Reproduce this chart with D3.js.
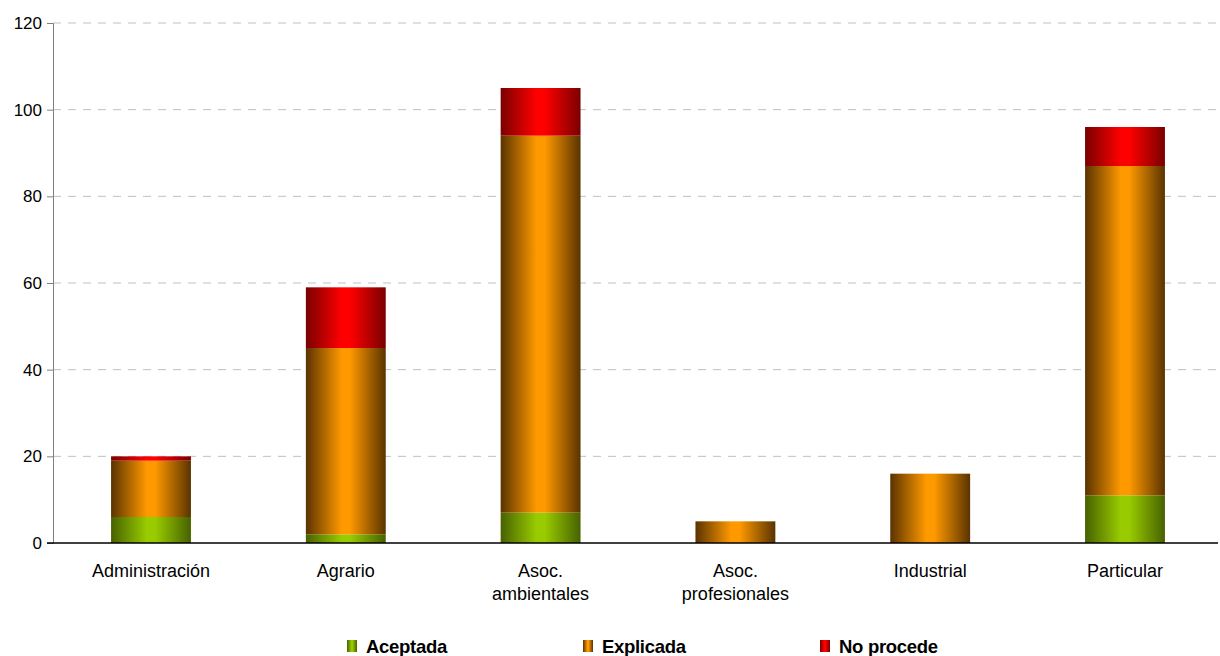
<!DOCTYPE html>
<html>
<head>
<meta charset="utf-8">
<style>
  body { margin: 0; background: #fff; }
  text { font-family: "Liberation Sans", Arial, sans-serif; }
</style>
</head>
<body>
<svg width="1220" height="656" id="chart"></svg>
<script src="https://cdn.jsdelivr.net/npm/d3@7"></script>
<script>

const categories = ['Administración', 'Agrario', 'Asoc.\nambientales', 'Asoc.\nprofesionales', 'Industrial', 'Particular']
const seriesNames = ['Aceptada', 'Explicada', 'No procede']
const aceptada = [6, 2, 7, 0, 0, 11]
const explicada = [13, 43, 87, 5, 16, 76]
const noProcede = [1, 14, 11, 0, 0, 9]
const yTicks = [0, 20, 40, 60, 80, 100, 120]

// edge / centre colours of the cylinder-like gradient
const palette = [
  { edge: '#476100', mid: '#99cc00' },
  { edge: '#5a3300', mid: '#ff9900' },
  { edge: '#7a0000', mid: '#ff0000' }
]

const rows = categories.map((c, i) => ({
  cat: c, Aceptada: aceptada[i], Explicada: explicada[i], 'No procede': noProcede[i]
}))

const plotLeft = 53, plotRight = 1218, plotTop = 23, plotBottom = 543

const svg = d3.select('#chart')

const x = d3.scaleBand().domain(categories).range([53.6, 1222.4])
const y = d3.scaleLinear().domain([0, 120]).range([plotBottom, plotTop])
const barW = x.bandwidth() * 0.41

// gradients
const defs = svg.append('defs')
palette.forEach((p, i) => {
  const g = defs.append('linearGradient').attr('id', 'grad' + i)
    .attr('x1', '0%').attr('x2', '100%').attr('y1', '0%').attr('y2', '0%')
  g.append('stop').attr('offset', '0%').attr('stop-color', p.edge)
  g.append('stop').attr('offset', '45%').attr('stop-color', p.mid)
  g.append('stop').attr('offset', '55%').attr('stop-color', p.mid)
  g.append('stop').attr('offset', '100%').attr('stop-color', p.edge)
})

// gridlines
svg.append('g')
  .selectAll('line')
  .data(yTicks.filter(d => d > 0))
  .enter()
  .append('line')
    .attr('x1', plotLeft).attr('x2', plotRight)
    .attr('y1', d => y(d)).attr('y2', d => y(d))
    .attr('stroke', '#c0c0c0')
    .attr('stroke-dasharray', '8,7')

// bars
const stack = d3.stack().keys(seriesNames)(rows)
svg.append('g')
  .selectAll('g')
  .data(stack)
  .enter()
  .append('g')
    .attr('fill', (d, i) => 'url(#grad' + i + ')')
  .selectAll('rect')
  .data(d => d)
  .enter()
  .append('rect')
    .attr('x', d => x(d.data.cat) + (x.bandwidth() - barW) / 2)
    .attr('width', barW)
    .attr('y', d => y(d[1]))
    .attr('height', d => y(d[0]) - y(d[1]))

// y axis
const yAxis = svg.append('g').attr('transform', 'translate(' + plotLeft + ',0)')
  .call(d3.axisLeft(y).tickValues(yTicks).tickSize(6).tickPadding(5))
yAxis.select('.domain').attr('stroke', '#808080')
yAxis.selectAll('.tick line').attr('stroke', '#808080')
yAxis.selectAll('.tick text')
  .attr('font-size', 17).attr('fill', '#000')
  .style('font-family', '"Liberation Sans", Arial, sans-serif')

// x axis line
svg.append('line')
  .attr('x1', plotLeft - 6).attr('x2', plotRight)
  .attr('y1', plotBottom).attr('y2', plotBottom)
  .attr('stroke', '#000').attr('stroke-width', 1.5)

// category labels
const labels = svg.append('g')
  .selectAll('text')
  .data(categories)
  .enter()
  .append('text')
    .attr('x', d => x(d) + x.bandwidth() / 2)
    .attr('y', 577)
    .attr('text-anchor', 'middle')
    .attr('font-size', 18)
labels.selectAll('tspan')
  .data(d => d.split('\n'))
  .enter()
  .append('tspan')
    .attr('x', function () { return d3.select(this.parentNode).attr('x') })
    .attr('dy', (d, i) => i === 0 ? 0 : 23)
    .text(d => d)

// legend
const legendX = [347, 583, 820]
const legend = svg.append('g')
  .selectAll('g')
  .data(seriesNames)
  .enter()
  .append('g')
    .attr('transform', (d, i) => 'translate(' + legendX[i] + ',640)')
legend.append('rect')
  .attr('width', 10).attr('height', 12)
  .attr('fill', (d, i) => 'url(#grad' + i + ')')
legend.append('text')
  .attr('x', 19).attr('y', 12.5)
  .attr('font-size', 18.5).attr('font-weight', 'bold')
  .attr('letter-spacing', -0.3)
  .text(d => d)

</script>
</body>
</html>
